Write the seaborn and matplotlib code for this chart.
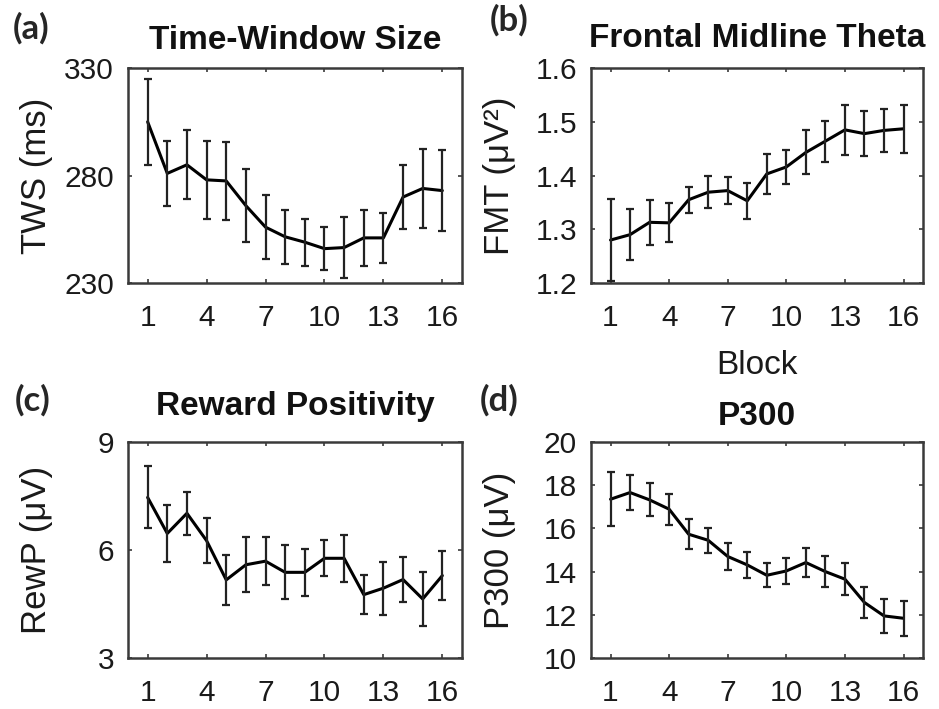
import numpy as np
import pandas as pd
import seaborn as sns
import matplotlib.pyplot as plt

# block numbers 1..16
blocks = list(range(1, 17))

# (a) time-window size, mean and error (ms)
tws_mean = [305, 281, 285, 278, 277.5, 266, 256, 251.5, 249, 246, 246.5, 251, 251, 270, 274, 273]
tws_err = [20, 15, 16, 18, 18, 17, 15, 12.5, 11, 10, 14, 13, 11.5, 15, 18.5, 19]

# (b) frontal midline theta (uV^2)
fmt_mean = [1.28, 1.29, 1.313, 1.312, 1.355, 1.369, 1.372, 1.353, 1.403, 1.416, 1.443, 1.464, 1.485, 1.478, 1.484, 1.487]
fmt_err = [0.076, 0.048, 0.042, 0.036, 0.024, 0.03, 0.025, 0.034, 0.037, 0.031, 0.041, 0.038, 0.046, 0.042, 0.04, 0.045]

# (c) reward positivity (uV)
rewp_mean = [7.46, 6.46, 7.02, 6.26, 5.17, 5.59, 5.69, 5.38, 5.38, 5.77, 5.77, 4.76, 4.94, 5.18, 4.64, 5.29]
rewp_err = [0.86, 0.8, 0.6, 0.62, 0.69, 0.77, 0.67, 0.75, 0.65, 0.5, 0.66, 0.55, 0.74, 0.62, 0.76, 0.67]

# (d) P300 (uV)
p300_mean = [17.35, 17.66, 17.32, 16.89, 15.73, 15.45, 14.70, 14.31, 13.83, 14.03, 14.42, 14.0, 13.65, 12.57, 11.95, 11.84]
p300_err = [1.25, 0.81, 0.76, 0.72, 0.7, 0.58, 0.62, 0.6, 0.55, 0.61, 0.67, 0.72, 0.75, 0.73, 0.77, 0.8]

panel_labels = ["(a)", "(b)", "(c)", "(d)"]
titles = ["Time-Window Size", "Frontal Midline Theta", "Reward Positivity", "P300"]
ylabels = ["TWS (ms)", "FMT (\u03bcV\u00b2)", "RewP (\u03bcV)", "P300 (\u03bcV)"]
ylims = [(230, 330), (1.2, 1.6), (3, 9), (10, 20)]
yticks = [[230, 280, 330], [1.2, 1.3, 1.4, 1.5, 1.6], [3, 6, 9], [10, 12, 14, 16, 18, 20]]
xticks = [1, 4, 7, 10, 13, 16]

sns.set_style("ticks")
plt.rcParams['font.family'] = ['Liberation Sans', 'DejaVu Sans']

fig = plt.figure(figsize=(9.39, 7.09), dpi=100)
# axes boxes in figure fractions
boxes = [
    [0.1363, 0.6008, 0.3557, 0.3032],
    [0.6294, 0.6008, 0.3536, 0.3032],
    [0.1363, 0.0719, 0.3557, 0.3047],
    [0.6294, 0.0719, 0.3536, 0.3047],
]
title_pads = [13.5, 15, 19.5, 12.5]
label_pos = [(0.014, 0.983), (0.522, 0.994), (0.016, 0.459), (0.511, 0.459)]

series = [(tws_mean, tws_err), (fmt_mean, fmt_err), (rewp_mean, rewp_err), (p300_mean, p300_err)]
frame_col = "#3a3a3a"

for i, (means, errs) in enumerate(series):
    ax = fig.add_axes(boxes[i])
    means = np.array(means)
    errs = np.array(errs)
    # long table with lower/upper ends so seaborn draws the mean and bars
    df = pd.DataFrame({
        "block": blocks * 2,
        "value": np.concatenate([means - errs, means + errs]),
    })
    sns.lineplot(data=df, x="block", y="value", ax=ax, color="black", linewidth=2.2,
                 estimator="mean", errorbar=lambda v: (v.min(), v.max()),
                 err_style="bars", err_kws={"capsize": 3, "elinewidth": 1.6,
                                            "capthick": 1.6, "ecolor": "#222222"})
    ax.set_xlim(0, 17)
    ax.set_ylim(*ylims[i])
    ax.set_xticks(xticks)
    ax.set_yticks(yticks[i])
    if i == 1:
        ax.set_yticklabels([f"{t:.1f}" for t in yticks[i]])
    ax.tick_params(direction="in", top=True, right=True, length=3, width=1.2,
                   color=frame_col, labelsize=21.5, labelcolor="#1a1a1a")
    ax.tick_params(axis="x", pad=15)
    ax.tick_params(axis="y", pad=10)
    for sp in ax.spines.values():
        sp.set_color(frame_col)
        sp.set_linewidth(1.8)
    ax.set_title(titles[i], fontsize=24, fontweight="bold", pad=title_pads[i], color="#111111")
    ax.set_ylabel(ylabels[i], fontsize=25, color="#1a1a1a")
    ax.yaxis.set_label_coords(-0.225, 0.5)
    if i == 1:
        ax.set_xlabel("Block", fontsize=24, color="#1a1a1a", labelpad=13)
    else:
        ax.set_xlabel("")
    fig.text(label_pos[i][0], label_pos[i][1], panel_labels[i], fontsize=25,
             fontweight="bold", family=["Lato", "DejaVu Sans"], va="top", ha="left")

fig.savefig("out.png", dpi=100)
